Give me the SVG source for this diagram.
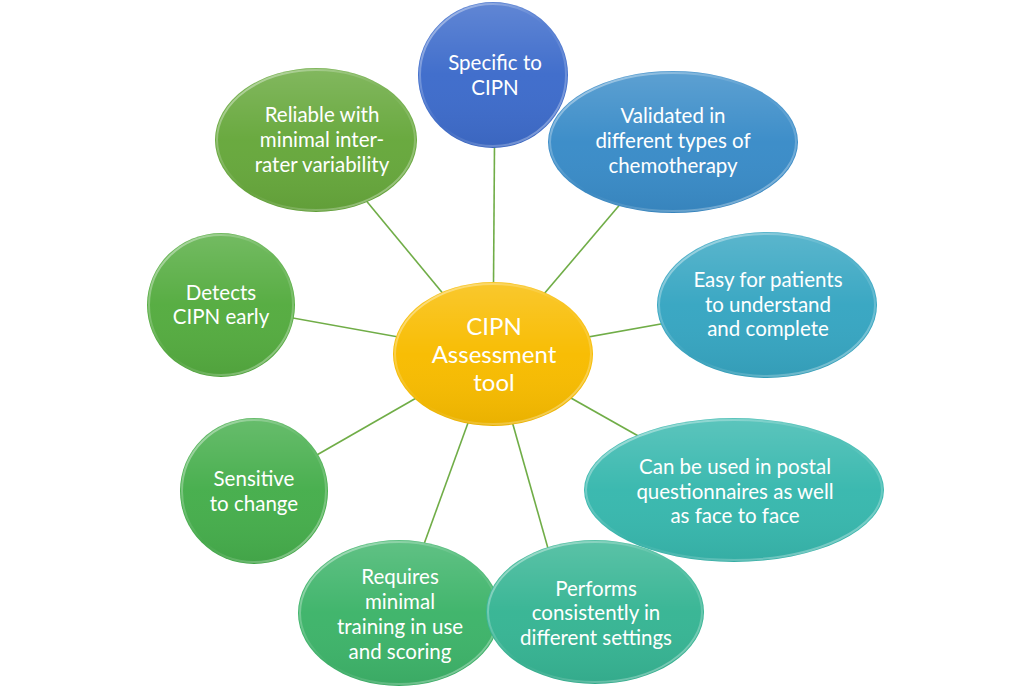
<svg xmlns="http://www.w3.org/2000/svg" width="1034" height="689" viewBox="0 0 1034 689">
<defs>
<linearGradient id="shine" x1="0" y1="0" x2="0" y2="1">
<stop offset="0" stop-color="#fff" stop-opacity="0.18"/>
<stop offset="0.5" stop-color="#fff" stop-opacity="0.02"/>
<stop offset="1" stop-color="#000" stop-opacity="0.06"/>
</linearGradient>
<linearGradient id="rim" x1="0" y1="0" x2="1" y2="1">
<stop offset="0" stop-color="#fff" stop-opacity="0.55"/>
<stop offset="0.5" stop-color="#fff" stop-opacity="0"/>
<stop offset="1" stop-color="#fff" stop-opacity="0.45"/>
</linearGradient>
</defs>
<style>
.bg{fill:#fff}
.edge{stroke:#70AD47;stroke-width:1.6;fill:none}
.shine{fill:url(#shine)}
.rim{fill:none;stroke:url(#rim);stroke-width:2}
.lbl{font-family:Lato,"Open Sans","Liberation Sans",sans-serif;font-size:20.5px;fill:#fff;text-anchor:middle;dominant-baseline:central}
.big{font-size:24px}
</style>
<rect class="bg" width="1034" height="689"/>
<g id="connectors">
<line class="edge" x1="493" y1="354" x2="495" y2="75"/>
<line class="edge" x1="493" y1="354" x2="673" y2="142"/>
<line class="edge" x1="493" y1="354" x2="767" y2="305"/>
<line class="edge" x1="493" y1="354" x2="734" y2="490"/>
<line class="edge" x1="493" y1="354" x2="566" y2="612"/>
<line class="edge" x1="493" y1="354" x2="399" y2="613"/>
<line class="edge" x1="493" y1="354" x2="254" y2="491"/>
<line class="edge" x1="493" y1="354" x2="221" y2="305"/>
<line class="edge" x1="493" y1="354" x2="316" y2="140"/>
</g>
<g id="node-specific">
<ellipse cx="493" cy="75" rx="75" ry="73" fill="#3E6CCB"/>
<ellipse class="shine" cx="493" cy="75" rx="75" ry="73"/>
<ellipse class="rim" cx="493" cy="75" rx="73" ry="71"/>
<text class="lbl"><tspan x="495" y="62">Specific to</tspan><tspan x="495" y="87">CIPN</tspan></text>
</g>
<g id="node-validated">
<ellipse cx="673" cy="142" rx="125" ry="71" fill="#3A8CC8"/>
<ellipse class="shine" cx="673" cy="142" rx="125" ry="71"/>
<ellipse class="rim" cx="673" cy="142" rx="123" ry="69"/>
<text class="lbl"><tspan x="673" y="115">Validated in</tspan><tspan x="673" y="140">different types of</tspan><tspan x="673" y="165">chemotherapy</tspan></text>
</g>
<g id="node-easy">
<ellipse cx="767" cy="305" rx="110" ry="73" fill="#37A6C2"/>
<ellipse class="shine" cx="767" cy="305" rx="110" ry="73"/>
<ellipse class="rim" cx="767" cy="305" rx="108" ry="71"/>
<text class="lbl"><tspan x="768" y="279">Easy for patients</tspan><tspan x="768" y="304">to understand</tspan><tspan x="768" y="328">and complete</tspan></text>
</g>
<g id="node-postal">
<ellipse cx="734" cy="490" rx="150" ry="72" fill="#38B8AE"/>
<ellipse class="shine" cx="734" cy="490" rx="150" ry="72"/>
<ellipse class="rim" cx="734" cy="490" rx="148" ry="70"/>
<text class="lbl"><tspan x="735" y="466">Can be used in postal</tspan><tspan x="735" y="491">questionnaires as well</tspan><tspan x="735" y="515">as face to face</tspan></text>
</g>
<g id="node-requires">
<ellipse cx="399" cy="613" rx="101" ry="73" fill="#3EB46A"/>
<ellipse class="shine" cx="399" cy="613" rx="101" ry="73"/>
<ellipse class="rim" cx="399" cy="613" rx="99" ry="71"/>
<text class="lbl"><tspan x="400" y="576">Requires</tspan><tspan x="400" y="601">minimal</tspan><tspan x="400" y="626">training in use</tspan><tspan x="400" y="651">and scoring</tspan></text>
</g>
<g id="node-performs">
<ellipse cx="595" cy="612" rx="109" ry="72" fill="#37B594"/>
<ellipse class="shine" cx="595" cy="612" rx="109" ry="72"/>
<ellipse class="rim" cx="595" cy="612" rx="107" ry="70"/>
<text class="lbl"><tspan x="596" y="588">Performs</tspan><tspan x="596" y="612">consistently in</tspan><tspan x="596" y="637">different settings</tspan></text>
</g>
<g id="node-sensitive">
<ellipse cx="254" cy="491" rx="74" ry="73" fill="#46AE4C"/>
<ellipse class="shine" cx="254" cy="491" rx="74" ry="73"/>
<ellipse class="rim" cx="254" cy="491" rx="72" ry="71"/>
<text class="lbl"><tspan x="254" y="478">Sensitive</tspan><tspan x="254" y="503">to change</tspan></text>
</g>
<g id="node-detects">
<ellipse cx="221" cy="305" rx="74" ry="72" fill="#55AC40"/>
<ellipse class="shine" cx="221" cy="305" rx="74" ry="72"/>
<ellipse class="rim" cx="221" cy="305" rx="72" ry="70"/>
<text class="lbl"><tspan x="221" y="292">Detects</tspan><tspan x="221" y="316">CIPN early</tspan></text>
</g>
<g id="node-reliable">
<ellipse cx="316" cy="140" rx="101" ry="72" fill="#67A83C"/>
<ellipse class="shine" cx="316" cy="140" rx="101" ry="72"/>
<ellipse class="rim" cx="316" cy="140" rx="99" ry="70"/>
<text class="lbl"><tspan x="322" y="114">Reliable with</tspan><tspan x="322" y="139">minimal inter-</tspan><tspan x="322" y="164">rater variability</tspan></text>
</g>
<g id="node-center">
<ellipse cx="493" cy="354" rx="100" ry="72" fill="#F8BC00"/>
<ellipse class="shine" cx="493" cy="354" rx="100" ry="72"/>
<ellipse class="rim" cx="493" cy="354" rx="98" ry="70"/>
<text class="lbl big"><tspan x="494" y="325">CIPN</tspan><tspan x="494" y="353">Assessment</tspan><tspan x="494" y="381">tool</tspan></text>
</g>
</svg>
